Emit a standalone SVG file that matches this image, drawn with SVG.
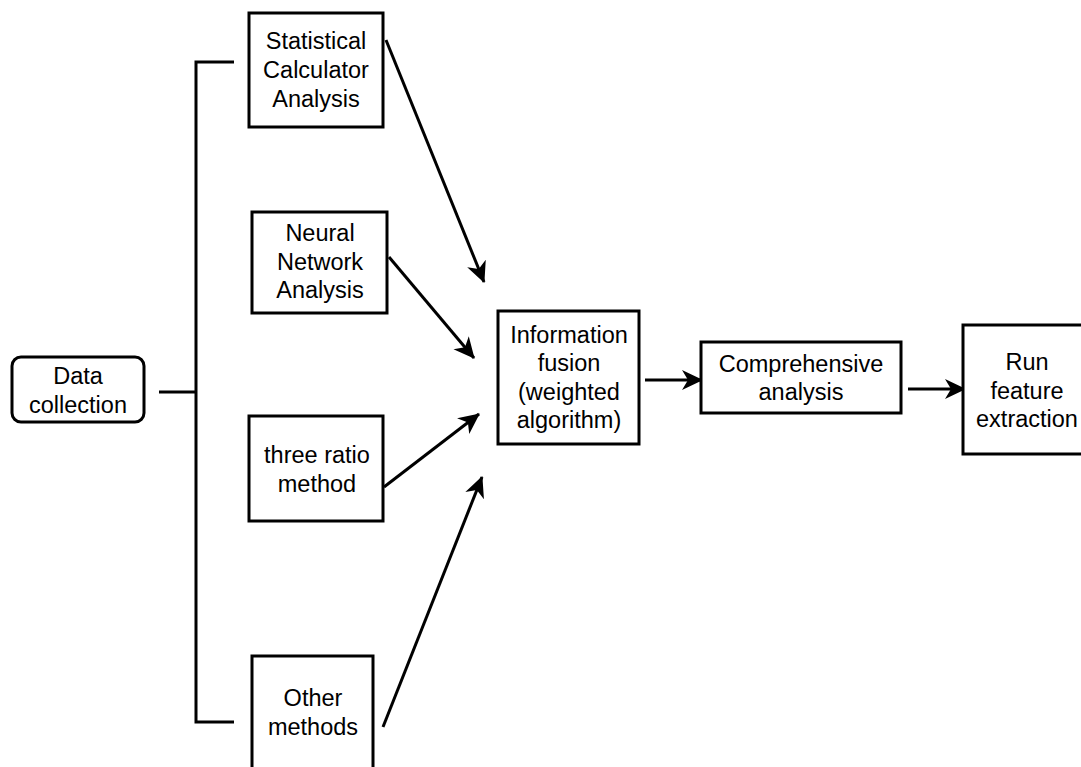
<svg xmlns="http://www.w3.org/2000/svg" width="1081" height="767" viewBox="0 0 1081 767">
<style>
.box{fill:#fff;stroke:#000;stroke-width:3}
.t{font-family:"Liberation Sans",Arial,sans-serif;font-size:23.5px;fill:#000;text-anchor:middle}
.c{fill:none;stroke:#000;stroke-width:3}
</style>
<defs>
<marker id="ah" markerUnits="userSpaceOnUse" markerWidth="24" markerHeight="22" refX="20" refY="10" orient="auto">
<path d="M0,0 L21,10 L0,20 L6,10 Z" fill="#000"/>
</marker>
</defs>
<rect width="1081" height="767" fill="#fff"/>
<g id="connectors">
<path class="c" d="M234,62 H196 V722 H234"/>
<path class="c" d="M159,392 H196"/>
<line class="c" x1="386" y1="40" x2="484" y2="282" marker-end="url(#ah)"/>
<line class="c" x1="389" y1="257" x2="474" y2="358" marker-end="url(#ah)"/>
<line class="c" x1="384" y1="487" x2="479" y2="414" marker-end="url(#ah)"/>
<line class="c" x1="383" y1="727" x2="482" y2="477" marker-end="url(#ah)"/>
<line class="c" x1="645" y1="380" x2="702" y2="380" marker-end="url(#ah)"/>
<line class="c" x1="908" y1="389" x2="965" y2="389" marker-end="url(#ah)"/>
</g>
<g id="data">
<rect class="box" x="12" y="357" width="132" height="65" rx="9"/>
<text class="t" x="78" y="384">Data</text>
<text class="t" x="78" y="413">collection</text>
</g>
<g id="statistical">
<rect class="box" x="249" y="13" width="134" height="114"/>
<text class="t" x="316" y="49">Statistical</text>
<text class="t" x="316" y="78">Calculator</text>
<text class="t" x="316" y="107">Analysis</text>
</g>
<g id="neural">
<rect class="box" x="252" y="212" width="135" height="101"/>
<text class="t" x="320" y="241">Neural</text>
<text class="t" x="320" y="270">Network</text>
<text class="t" x="320" y="298">Analysis</text>
</g>
<g id="threeratio">
<rect class="box" x="249" y="416" width="134" height="105"/>
<text class="t" x="317" y="463">three ratio</text>
<text class="t" x="317" y="492">method</text>
</g>
<g id="other">
<rect class="box" x="252" y="656" width="121" height="130"/>
<text class="t" x="313" y="706">Other</text>
<text class="t" x="313" y="735">methods</text>
</g>
<g id="fusion">
<rect class="box" x="498" y="311" width="141" height="133"/>
<text class="t" x="569" y="343">Information</text>
<text class="t" x="569" y="371">fusion</text>
<text class="t" x="569" y="400">(weighted</text>
<text class="t" x="569" y="428">algorithm)</text>
</g>
<g id="comprehensive">
<rect class="box" x="701" y="342" width="200" height="71"/>
<text class="t" x="801" y="372">Comprehensive</text>
<text class="t" x="801" y="400">analysis</text>
</g>
<g id="run">
<rect class="box" x="963" y="325" width="130" height="129"/>
<text class="t" x="1027" y="370">Run</text>
<text class="t" x="1027" y="399">feature</text>
<text class="t" x="1027" y="427">extraction</text>
</g>
</svg>
